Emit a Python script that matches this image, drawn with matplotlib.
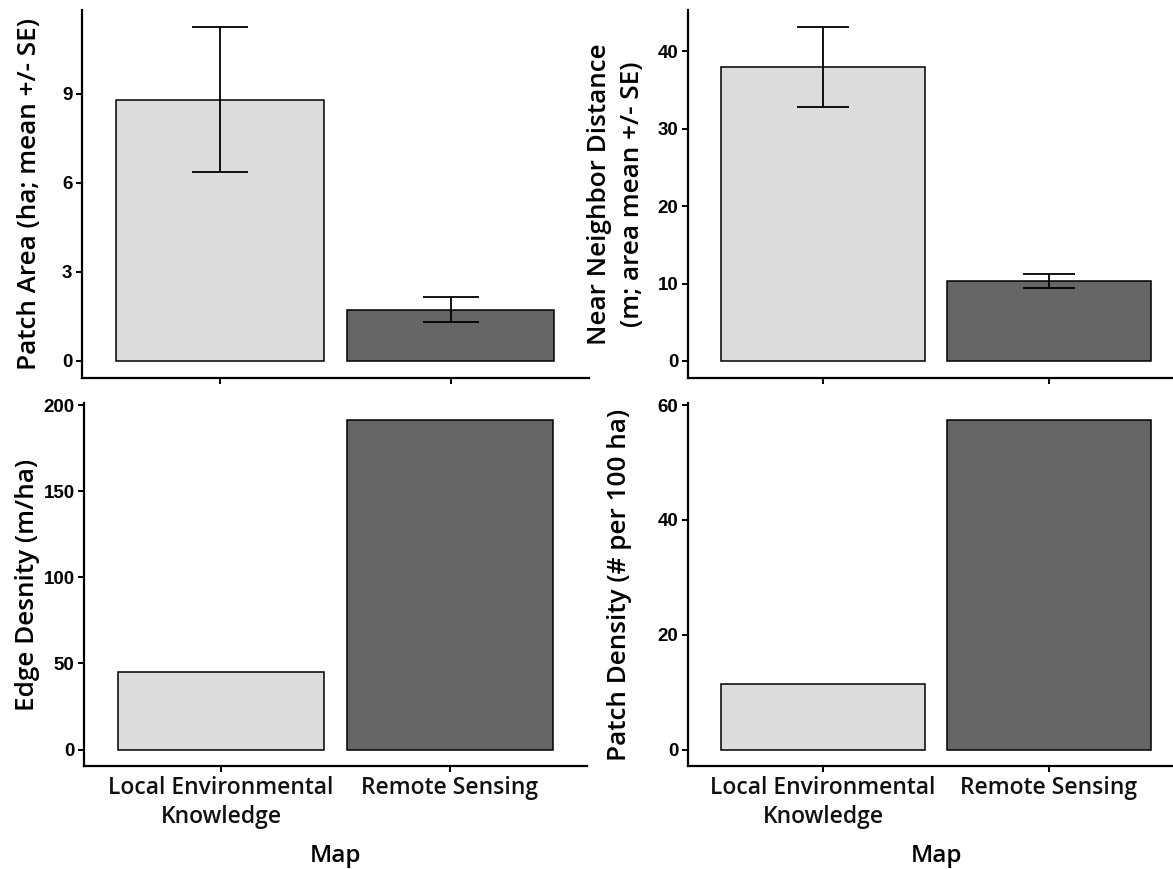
import matplotlib
matplotlib.use("Agg")
import matplotlib.pyplot as plt

categories = ["Local Environmental\nKnowledge", "Remote Sensing"]
patch_area = [8.80, 1.73]
patch_area_se = [2.45, 0.43]
nn_dist = [38.0, 10.29]
nn_dist_se = [5.15, 0.92]
edge_density = [45.1, 191.7]
patch_density = [11.4, 57.5]

bar_colors = ["#dcdcdc", "#666666"]
label_font = ["Open Sans", "DejaVu Sans"]
tick_font = ["Liberation Sans", "DejaVu Sans"]

W, H = 1173, 869
fig = plt.figure(figsize=(W / 100, H / 100), dpi=100)

def rect(l, r, t, b):
    return [l / W, 1 - b / H, (r - l) / W, (b - t) / H]

panels = [
    dict(rect=rect(81.5, 589, 10, 377.7), vals=patch_area, se=patch_area_se,
         ticks=[0, 3, 6, 9], ylabel="Patch Area (ha; mean +/- SE)", lx=29, xt=False, cap=20.5),
    dict(rect=rect(687.5, 1184.6, 10, 377.7), vals=nn_dist, se=nn_dist_se,
         ticks=[0, 10, 20, 30, 40], ylabel="Near Neighbor Distance\n(m; area mean +/- SE)", lx=616, xt=False, cap=18.7),
    dict(rect=rect(83.6, 587.4, 403, 766), vals=edge_density, se=None,
         ticks=[0, 50, 100, 150, 200], ylabel="Edge Desnity (m/ha)", lx=28, xt=True, cap=0),
    dict(rect=rect(687.5, 1184.6, 403, 766), vals=patch_density, se=None,
         ticks=[0, 20, 40, 60], ylabel="Patch Density (# per 100 ha)", lx=619, xt=True, cap=0),
]

for p in panels:
    ax = fig.add_axes(p["rect"])
    x = list(range(1, len(categories) + 1))
    ax.bar(x, p["vals"], width=0.9, color=bar_colors, edgecolor="black", linewidth=1.1, zorder=2)
    top = max(p["vals"])
    if p["se"] is not None:
        ax.errorbar(x, p["vals"], yerr=p["se"], fmt="none", ecolor="black",
                    elinewidth=1.3, capsize=p["cap"], capthick=1.3, zorder=3)
        top = max(v + s for v, s in zip(p["vals"], p["se"]))
    pad = 0.05 * top
    ax.set_ylim(-pad, top + pad)
    ax.set_xlim(0.4, 2.6)
    ax.set_yticks(p["ticks"])
    ax.set_xticks(x)
    for s in ["top", "right"]:
        ax.spines[s].set_visible(False)
    for s in ["left", "bottom"]:
        ax.spines[s].set_linewidth(1.6)
        ax.spines[s].set_color("black")
    ax.tick_params(axis="both", length=4.0, width=1.4, color="black", direction="out")
    ax.tick_params(axis="y", pad=2.5)
    ax.tick_params(axis="x", pad=3)
    for lab in ax.get_yticklabels():
        lab.set_fontfamily(tick_font)
        lab.set_fontweight("bold")
        lab.set_fontsize(13.5)
    if p["xt"]:
        ax.set_xticklabels(categories, fontfamily=label_font, fontsize=16.5,
                           fontweight="semibold", color="#111111", linespacing=1.3)
        ax.set_xlabel("Map", fontfamily=label_font, fontsize=17.5, fontweight="semibold", labelpad=11)
    else:
        ax.set_xticklabels([])
    ax.set_ylabel(p["ylabel"], fontfamily=label_font, fontsize=18.8, fontweight="semibold", linespacing=1.4)
    ax.yaxis.label.set_verticalalignment("center")
    ax.yaxis.set_label_coords((p["lx"] - p["rect"][0] * W) / (p["rect"][2] * W), 0.5)

fig.savefig("out.png", dpi=100)
